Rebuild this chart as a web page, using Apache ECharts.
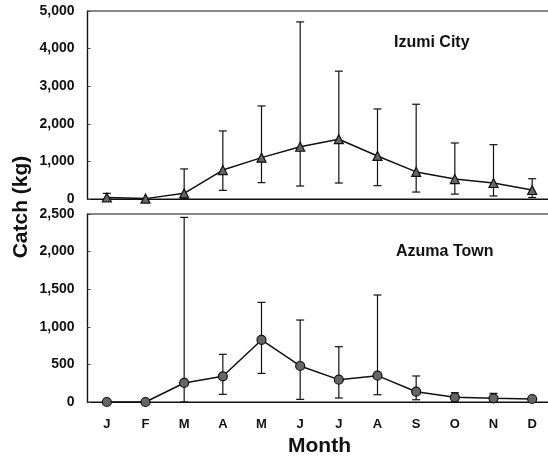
<!DOCTYPE html>
<html>
<head>
<meta charset="utf-8">
<script src="https://cdn.jsdelivr.net/npm/echarts@6/dist/echarts.min.js"></script>
<style>
  html, body { margin: 0; padding: 0; background: #fff; }
  #chart { width: 548px; height: 461px; }
</style>
</head>
<body>
<div id="chart"></div>
<script>
// Monthly catch (kg): mean with low/high range, two localities
const months = ['J', 'F', 'M', 'A', 'M', 'J', 'J', 'A', 'S', 'O', 'N', 'D'];

const izumiMean = [40, 10, 150, 770, 1100, 1390, 1590, 1145, 720, 530, 425, 240];
const izumiLow  = [0, null, 20, 230, 435, 345, 425, 355, 185, 130, 80, 40];
const izumiHigh = [150, null, 800, 1810, 2475, 4710, 3400, 2395, 2520, 1490, 1445, 540];

const azumaMean = [0, 0, 253, 342, 825, 479, 297, 350, 137, 62, 49, 40];
const azumaLow  = [null, null, 0, 102, 380, 35, 53, 97, 30, 0, 0, null];
const azumaHigh = [null, null, 2455, 634, 1325, 1090, 735, 1423, 346, 124, 115, null];

const izumiTicks = { max: 5000, interval: 1000 };
const azumaTicks = { max: 2500, interval: 500 };

const FONT = 'Liberation Sans, Arial, sans-serif';

function rangeData(low, high) {
  const out = [];
  for (let i = 0; i < months.length; i++) {
    if (low[i] !== null && high[i] !== null) out.push([i, low[i], high[i]]);
  }
  return out;
}

// vertical whisker with caps at both ends
function renderRange(params, api) {
  const i = api.value(0);
  const top = api.coord([i, api.value(2)]);
  const bot = api.coord([i, api.value(1)]);
  const hw = 4;
  const st = { stroke: '#111', lineWidth: 1.2 };
  return {
    type: 'group',
    children: [
      { type: 'line', shape: { x1: top[0], y1: top[1], x2: bot[0], y2: bot[1] }, style: st },
      { type: 'line', shape: { x1: top[0] - hw, y1: top[1], x2: top[0] + hw, y2: top[1] }, style: st },
      { type: 'line', shape: { x1: bot[0] - hw, y1: bot[1], x2: bot[0] + hw, y2: bot[1] }, style: st }
    ]
  };
}

// plot frames run past the right edge of the canvas
const grids = [
  { left: 87.5, top: 11, width: 464, height: 188 },
  { left: 87.5, top: 214, width: 464, height: 188 }
].map(g => Object.assign(g, {
  show: true, borderColor: '#111', borderWidth: 1.2, backgroundColor: 'transparent',
  containLabel: false, outerBoundsMode: 'none'
}));

function yAxis(gridIndex, ticks) {
  return {
    type: 'value', gridIndex, min: 0, max: ticks.max, interval: ticks.interval,
    axisLine: { show: true, lineStyle: { color: '#111', width: 1.2 } },
    axisTick: { show: true, inside: true, length: 3, lineStyle: { color: '#444' } },
    splitLine: { show: false },
    axisLabel: {
      margin: 13, color: '#111', fontFamily: FONT, fontWeight: 'bold', fontSize: 14,
      padding: [6, 0, 0, 0],
      formatter: v => v.toLocaleString('en-US')
    }
  };
}

const chart = echarts.init(document.getElementById('chart'), null, { renderer: 'canvas' });

chart.setOption({
  animation: false,
  backgroundColor: '#fff',
  grid: grids,
  title: [
    { text: 'Izumi City', left: 394, top: 35, padding: 0,
      textStyle: { fontFamily: FONT, fontWeight: 'bold', fontSize: 16, color: '#111' } },
    { text: 'Azuma Town', left: 396, top: 244, padding: 0,
      textStyle: { fontFamily: FONT, fontWeight: 'bold', fontSize: 16, color: '#111' } }
  ],
  xAxis: [
    { type: 'category', gridIndex: 0, data: months,
      axisLine: { show: true, lineStyle: { color: '#111', width: 1.2 } },
      axisTick: { show: false }, axisLabel: { show: false } },
    { type: 'category', gridIndex: 1, data: months,
      axisLine: { show: true, lineStyle: { color: '#111', width: 1.2 } },
      axisTick: { show: false },
      axisLabel: { margin: 16, color: '#111', fontFamily: FONT, fontWeight: 'bold', fontSize: 13 },
      name: 'Month', nameLocation: 'middle', nameGap: 34,
      nameTextStyle: { fontFamily: FONT, fontWeight: 'bold', fontSize: 21, color: '#111' } }
  ],
  yAxis: [yAxis(0, izumiTicks), yAxis(1, azumaTicks)],
  graphic: [
    { type: 'text', x: 21, y: 207, rotation: Math.PI / 2,
      style: { text: 'Catch (kg)', font: 'bold 21px ' + FONT, fill: '#111',
               align: 'center', verticalAlign: 'middle' } }
  ],
  series: [
    { type: 'custom', xAxisIndex: 0, yAxisIndex: 0, renderItem: renderRange,
      data: rangeData(izumiLow, izumiHigh), z: 1 },
    { type: 'line', xAxisIndex: 0, yAxisIndex: 0, data: izumiMean,
      symbol: 'triangle', symbolSize: 9,
      lineStyle: { color: '#111', width: 1.5 },
      itemStyle: { color: '#666', borderColor: '#111', borderWidth: 1.2 }, z: 3 },
    { type: 'custom', xAxisIndex: 1, yAxisIndex: 1, renderItem: renderRange,
      data: rangeData(azumaLow, azumaHigh), z: 1 },
    { type: 'line', xAxisIndex: 1, yAxisIndex: 1, data: azumaMean,
      symbol: 'circle', symbolSize: 9,
      lineStyle: { color: '#111', width: 1.5 },
      itemStyle: { color: '#666', borderColor: '#111', borderWidth: 1.2 }, z: 3 }
  ]
});
</script>
</body>
</html>
